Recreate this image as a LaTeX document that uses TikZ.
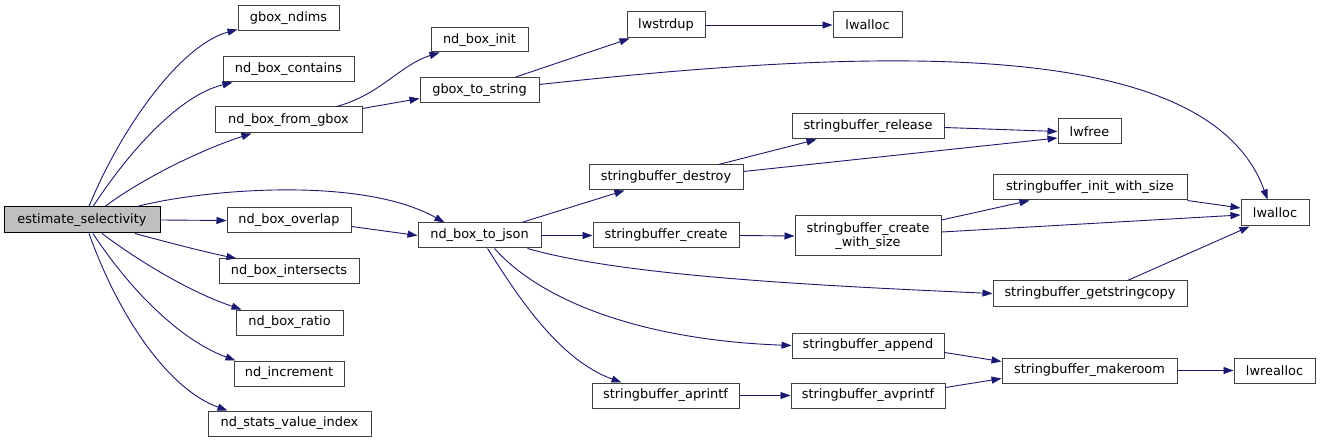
\documentclass[tikz,border=0pt]{standalone}
\usepackage{fontspec}
\setmainfont{DejaVu Sans}
\usetikzlibrary{arrows.meta,calc}
\definecolor{edgec}{HTML}{191970}
\definecolor{bordc}{HTML}{404040}
\definecolor{esfill}{HTML}{BFBFBF}
\tikzset{
  fbox/.style={draw=bordc, line width=1pt, fill=white, inner sep=0pt, minimum height=25pt,
    font=\fontsize{12.9}{14.5}\selectfont, align=center},
  call/.style={draw=edgec, line width=0.9pt, -{Triangle[length=10pt,width=7pt]}},
}
\begin{document}
\begin{tikzpicture}[x=1pt,y=-1pt]
\useasboundingbox[fill=white] (0,0) rectangle (1321,443);
% nodes
\node[fbox, fill=esfill, draw=black, minimum width=156pt, minimum height=26pt] (es) at (82,220) {estimate\_selectivity};
\node[fbox, minimum width=101pt] (gn) at (288.5,18.5) {gbox\_ndims};
\node[fbox, minimum width=131pt] (nbc) at (288.5,69.5) {nd\_box\_contains};
\node[fbox, minimum width=147pt, minimum height=26pt] (nbfg) at (288.5,120) {nd\_box\_from\_gbox};
\node[fbox, minimum width=124pt] (nbov) at (289,220.5) {nd\_box\_overlap};
\node[fbox, minimum width=140pt] (nbi) at (289,271.5) {nd\_box\_intersects};
\node[fbox, minimum width=107pt] (nbr) at (289.5,322.5) {nd\_box\_ratio};
\node[fbox, minimum width=110pt] (ninc) at (289,373.5) {nd\_increment};
\node[fbox, minimum width=163pt] (nsvi) at (289.5,423.5) {nd\_stats\_value\_index};
\node[fbox, minimum width=97pt, minimum height=24pt] (nbinit) at (479.5,40) {nd\_box\_init};
\node[fbox, minimum width=119pt] (gts) at (479.5,90.5) {gbox\_to\_string};
\node[fbox, minimum width=123pt] (nbj) at (479.5,235.5) {nd\_box\_to\_json};
\node[fbox, minimum width=78pt, minimum height=26pt] (lwsd) at (666,25) {lwstrdup};
\node[fbox, minimum width=69pt, minimum height=26pt] (lwa1) at (867.5,25) {lwalloc};
\node[fbox, minimum width=154pt] (sbd) at (666,177.5) {stringbuffer\_destroy};
\node[fbox, minimum width=146pt] (sbc) at (666,235.5) {stringbuffer\_create};
\node[fbox, minimum width=147pt] (sbap) at (665.5,395.5) {stringbuffer\_aprintf};
\node[fbox, minimum width=152pt] (sbr) at (868,126.5) {stringbuffer\_release};
\node[fbox, minimum width=146pt, minimum height=40pt] (sbcws) at (868,236) {stringbuffer\_create\\\_with\_size};
\node[fbox, minimum width=152pt] (sbapp) at (868,345.5) {stringbuffer\_append};
\node[fbox, minimum width=154pt] (sbavp) at (868,395.5) {stringbuffer\_avprintf};
\node[fbox, minimum width=63pt] (lwf) at (1089.5,131.5) {lwfree};
\node[fbox, minimum width=194pt] (sbiws) at (1090,187.5) {stringbuffer\_init\_with\_size};
\node[fbox, minimum width=194pt] (sbgsc) at (1090,293.5) {stringbuffer\_getstringcopy};
\node[fbox, minimum width=175pt] (sbmr) at (1089.5,370.5) {stringbuffer\_makeroom};
\node[fbox, minimum width=68pt, minimum height=26pt] (lwa2) at (1275,213) {lwalloc};
\node[fbox, minimum width=81pt] (lwr) at (1274.5,370.5) {lwrealloc};
% edges from estimate_selectivity
\draw[call] ($(es.north)+(7,0)$) .. controls (120,130) and (180,45) .. ($(gn.south west)+(0,-2)$);
\draw[call] ($(es.north)+(11,0)$) .. controls (130,150) and (180,95) .. ($(nbc.south west)+(10,0)$);
\draw[call] ($(es.north)+(23,0)$) .. controls (140,180) and (200,150) .. ($(nbfg.south west)+(37,0)$);
\draw[call] ($(es.north)+(55,0)$) .. controls (200,190) and (360,175) .. ($(nbj.north west)+(27,0)$);
\draw[call] (es.east) -- (nbov.west);
\draw[call] ($(es.south)+(53,0)$) .. controls (170,243) and (205,252) .. ($(nbi.north west)+(18,0)$);
\draw[call] ($(es.south)+(20,0)$) .. controls (140,262) and (190,292) .. ($(nbr.north west)+(6,0)$);
\draw[call] ($(es.south)+(11,0)$) .. controls (130,290) and (180,340) .. ($(ninc.north west)+(2,0)$);
\draw[call] ($(es.south)+(7,0)$) .. controls (120,320) and (170,390) .. ($(nsvi.north west)+(20,0)$);
% second level
\draw[call] ($(nbfg.north west)+(122,0)$) .. controls (380,95) and (400,65) .. ($(nbinit.south west)+(9,0)$);
\draw[call] ($(nbfg.north east)+(0,2)$) -- ($(gts.south west)+(0,-5)$);
\draw[call] ($(gts.north west)+(95,0)$) -- ($(lwsd.south west)+(3,0)$);
\draw[call] ($(gts.north east)+(0,7)$) .. controls (900,45) and (1210,40) .. ($(lwa2.north west)+(27,0)$);
\draw[call] (lwsd.east) -- (lwa1.west);
\draw[call] ($(nbov.east)+(0,6)$) -- (nbj.west);
\draw[call] ($(nbj.north west)+(104,0)$) -- ($(sbd.south west)+(36,0)$);
\draw[call] (nbj.east) -- (sbc.west);
\draw[call] ($(nbj.south west)+(110,0)$) .. controls (620,275) and (800,285) .. (sbgsc.west);
\draw[call] ($(nbj.south west)+(77,0)$) .. controls (540,300) and (640,340) .. (sbapp.west);
\draw[call] ($(nbj.south west)+(70,0)$) .. controls (520,300) and (560,360) .. ($(sbap.north west)+(30,0)$);
% third level
\draw[call] ($(sbd.north west)+(130,0)$) -- ($(sbr.south west)+(25,0)$);
\draw[call] ($(sbd.east)+(0,-6)$) -- ($(lwf.west)+(0,6.5)$);
\draw[call] ($(sbr.east)+(0,1)$) -- (lwf.west);
\draw[call] (sbc.east) -- (sbcws.west);
\draw[call] ($(sbcws.east)+(0,-16)$) -- ($(sbiws.south west)+(37,0)$);
\draw[call] ($(sbcws.east)+(0,-4)$) -- ($(lwa2.west)+(0,2)$);
\draw[call] (sbiws.south east) -- ($(lwa2.west)+(0,-5)$);
\draw[call] ($(sbgsc.north west)+(135,0)$) -- ($(lwa2.south west)+(9,0)$);
\draw[call] ($(sbapp.east)+(0,7)$) -- ($(sbmr.west)+(0,-9)$);
\draw[call] ($(sbavp.east)+(0,-8)$) -- ($(sbmr.west)+(0,8)$);
\draw[call] (sbap.east) -- (sbavp.west);
\draw[call] (sbmr.east) -- (lwr.west);
\end{tikzpicture}
\end{document}
